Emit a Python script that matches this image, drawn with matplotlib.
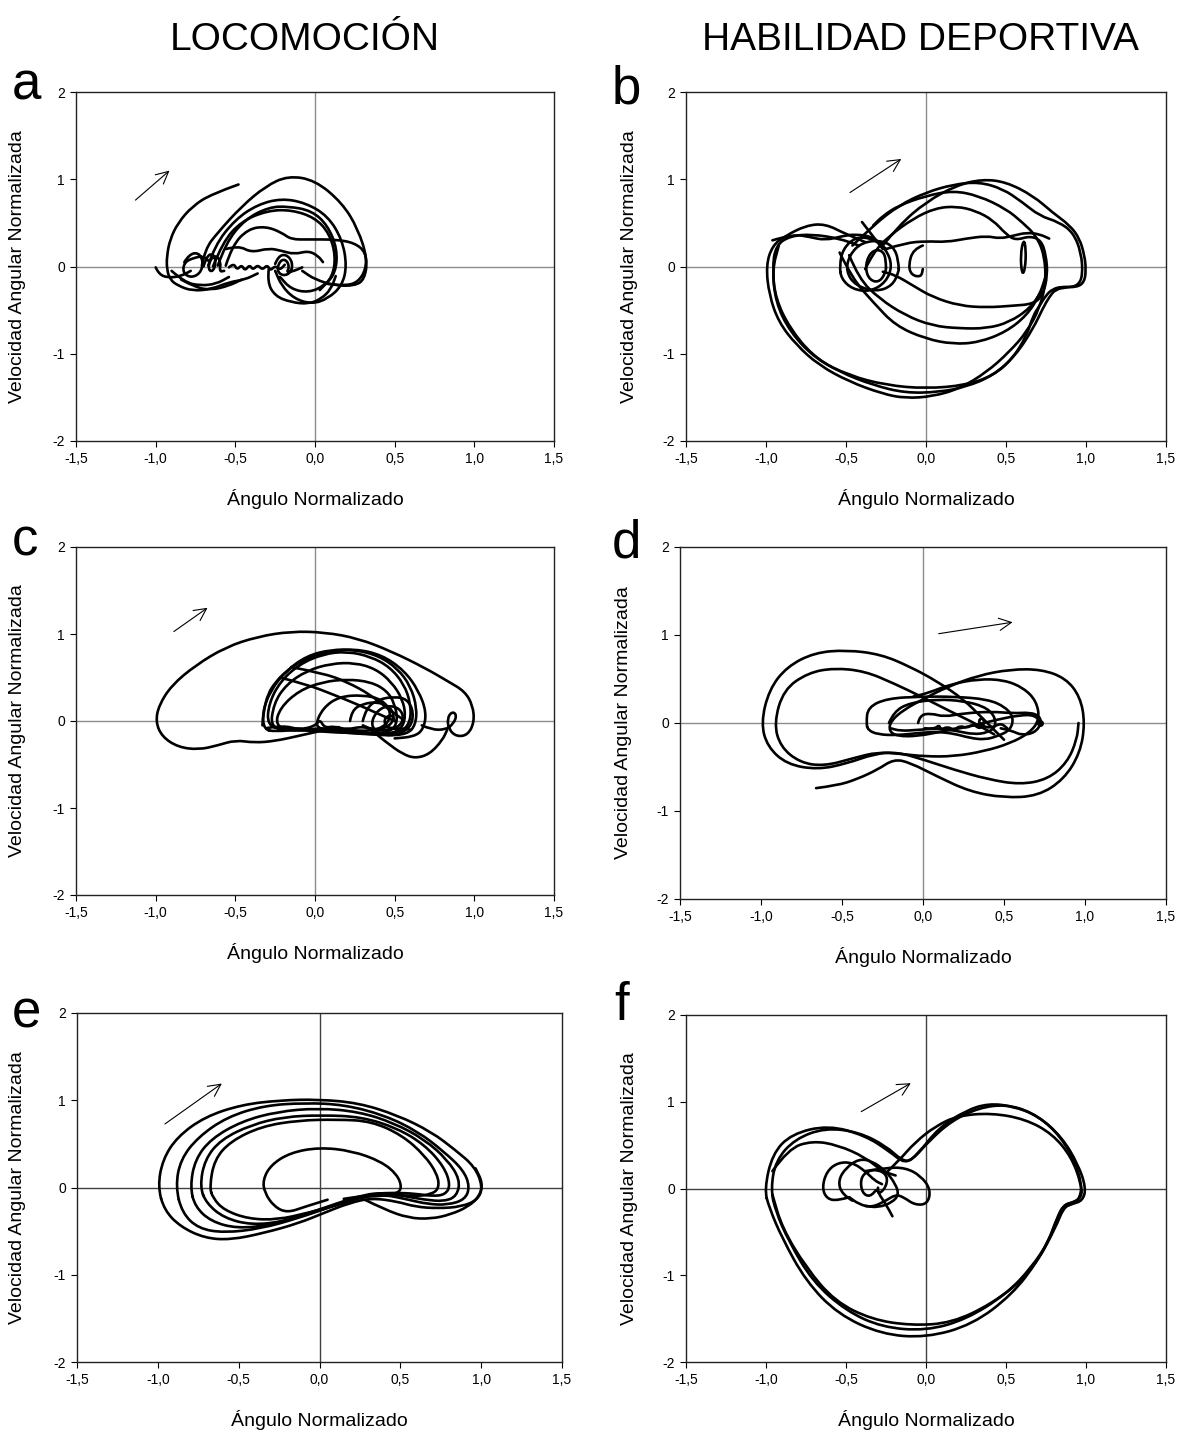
import matplotlib
matplotlib.use("Agg")
import matplotlib.pyplot as plt
import numpy as np
from matplotlib.path import Path
from matplotlib.patches import PathPatch

plt.rcParams["font.family"] = ["Liberation Sans", "DejaVu Sans"]

# ---------------- data (x = normalised angle, y = normalised angular velocity)
x_ticks = [-1.5, -1.0, -0.5, 0.0, 0.5, 1.0, 1.5]
x_tick_labels = ["-1,5", "-1,0", "-0,5", "0,0", "0,5", "1,0", "1,5"]
y_ticks = [-2, -1, 0, 1, 2]
y_tick_labels = ["-2", "-1", "0", "1", "2"]

# panel a - locomocion
a_tail = [(-1.00, -0.01), (-0.98, -0.09), (-0.92, -0.13), (-0.84, -0.11), (-0.78, -0.05)]
a_start = [(-0.48, 0.94), (-0.65, 0.83), (-0.77, 0.69), (-0.86, 0.50), (-0.91, 0.31), (-0.93, 0.12),
           (-0.93, -0.03), (-0.91, -0.15), (-0.86, -0.22), (-0.77, -0.28), (-0.65, -0.26),
           (-0.54, -0.18), (-0.44, -0.15), (-0.36, -0.08)]
a_arch1 = [(-0.71, 0.01), (-0.69, 0.20), (-0.61, 0.39), (-0.46, 0.69), (-0.31, 0.92), (-0.17, 1.04),
           (0.00, 0.99), (0.17, 0.73), (0.27, 0.43), (0.33, 0.08), (0.31, -0.15), (0.25, -0.22),
           (0.13, -0.22), (0.00, -0.15), (-0.08, -0.05)]
a_arch2 = [(-0.67, 0.01), (-0.63, 0.24), (-0.50, 0.54), (-0.36, 0.71), (-0.21, 0.78), (-0.06, 0.73),
           (0.08, 0.58), (0.17, 0.31), (0.20, 0.01), (0.17, -0.22), (0.08, -0.37), (-0.02, -0.43),
           (-0.13, -0.37), (-0.21, -0.22), (-0.25, -0.05)]
a_arch3 = [(-0.61, 0.01), (-0.56, 0.27), (-0.44, 0.54), (-0.29, 0.68), (-0.17, 0.69), (-0.02, 0.64),
           (0.08, 0.47), (0.14, 0.20), (0.13, -0.07), (0.06, -0.22), (-0.04, -0.30), (-0.15, -0.26),
           (-0.22, -0.12)]
a_arch4 = [(-0.64, 0.00), (-0.58, 0.28), (-0.46, 0.52), (-0.30, 0.64), (-0.15, 0.65), (0.00, 0.56),
           (0.09, 0.38), (0.13, 0.12), (0.11, -0.12), (0.03, -0.27)]
a_arch5 = [(-0.56, 0.01), (-0.52, 0.24), (-0.42, 0.43), (-0.31, 0.46), (-0.21, 0.39), (-0.15, 0.31),
           (-0.04, 0.31), (0.13, 0.31), (0.25, 0.27), (0.32, 0.16), (0.32, -0.03), (0.27, -0.18),
           (0.19, -0.22), (0.08, -0.20)]
a_wave = [(-0.56, 0.20), (-0.48, 0.24), (-0.40, 0.16), (-0.29, 0.21), (-0.21, 0.18), (-0.13, 0.14),
          (-0.04, 0.18), (0.02, 0.12), (0.05, 0.05)]
a_left_loops = [(-0.82, 0.05), (-0.79, 0.14), (-0.73, 0.16), (-0.70, 0.05), (-0.72, -0.08),
                (-0.78, -0.13), (-0.83, -0.07), (-0.82, 0.05), (-0.76, 0.10), (-0.70, 0.12), (-0.66, 0.05)]
a_curls = [(-0.70, 0.00), (-0.68, 0.12), (-0.64, 0.15), (-0.62, 0.05), (-0.64, -0.06), (-0.67, -0.04),
           (-0.66, 0.08), (-0.62, 0.13), (-0.59, 0.05), (-0.60, -0.06), (-0.57, -0.05)]
a_squiggle = [(-0.54, -0.01), (-0.51, 0.04), (-0.49, -0.04), (-0.46, 0.02), (-0.44, -0.05), (-0.41, 0.02),
              (-0.39, -0.04), (-0.36, 0.02), (-0.33, -0.04), (-0.30, 0.02), (-0.28, -0.05), (-0.25, 0.01),
              (-0.22, -0.04), (-0.19, 0.02)]
a_right_curls = [(-0.25, 0.03), (-0.23, 0.12), (-0.18, 0.14), (-0.14, 0.05), (-0.15, -0.07), (-0.20, -0.11),
                 (-0.24, -0.05), (-0.22, 0.07), (-0.18, 0.08), (-0.16, -0.01), (-0.18, -0.07),
                 (-0.13, -0.05), (-0.08, -0.01)]
a_bottom_right = [(-0.29, -0.03), (-0.30, -0.18), (-0.25, -0.34), (-0.15, -0.41), (-0.04, -0.43),
                  (0.04, -0.37), (0.10, -0.26), (0.13, -0.11)]
a_bottom_left = [(-0.84, -0.15), (-0.75, -0.24), (-0.65, -0.27), (-0.54, -0.22), (-0.46, -0.15)]
a_bottom_left2 = [(-0.90, -0.05), (-0.82, -0.18), (-0.72, -0.22), (-0.62, -0.20), (-0.54, -0.12)]
a_arrow = [(-1.14, 0.74), (-0.90, 1.12)]

# panel b - habilidad deportiva
b_outer1 = [(-0.38, 0.28), (-0.50, 0.37), (-0.63, 0.49), (-0.75, 0.47), (-0.88, 0.35), (-0.96, 0.24),
            (-1.00, 0.01), (-0.98, -0.33), (-0.92, -0.64), (-0.81, -0.90), (-0.67, -1.13), (-0.48, -1.32),
            (-0.27, -1.46), (-0.13, -1.51), (0.04, -1.49), (0.21, -1.40), (0.38, -1.21), (0.52, -0.98),
            (0.63, -0.75), (0.71, -0.48), (0.75, -0.18), (0.74, 0.13), (0.69, 0.35), (0.60, 0.51),
            (0.50, 0.66), (0.33, 0.81), (0.17, 0.87), (0.00, 0.81), (-0.17, 0.70), (-0.27, 0.58),
            (-0.33, 0.47)]
b_big_right = [(-0.27, 0.24), (-0.17, 0.47), (0.00, 0.74), (0.19, 0.93), (0.35, 1.00), (0.50, 0.97),
               (0.67, 0.81), (0.79, 0.62), (0.90, 0.47), (0.96, 0.32), (0.99, 0.13), (1.00, -0.03),
               (0.99, -0.18), (0.94, -0.24), (0.85, -0.23), (0.79, -0.26), (0.75, -0.33), (0.71, -0.45),
               (0.67, -0.56), (0.63, -0.79), (0.54, -1.06), (0.42, -1.25), (0.25, -1.36), (0.00, -1.40),
               (-0.25, -1.36), (-0.48, -1.25), (-0.69, -1.06), (-0.85, -0.75), (-0.94, -0.41),
               (-0.96, -0.03), (-0.94, 0.24), (-0.85, 0.35), (-0.71, 0.37), (-0.54, 0.32), (-0.42, 0.24)]
b_third = [(-0.46, 0.24), (-0.33, 0.47), (-0.17, 0.70), (0.00, 0.85), (0.17, 0.94), (0.33, 0.97),
           (0.48, 0.89), (0.60, 0.74), (0.71, 0.58), (0.83, 0.51), (0.92, 0.39), (0.97, 0.16),
           (0.98, -0.10), (0.95, -0.22), (0.88, -0.24), (0.81, -0.26), (0.77, -0.35), (0.73, -0.48),
           (0.67, -0.71), (0.56, -1.02), (0.42, -1.25), (0.25, -1.38), (0.08, -1.44), (-0.13, -1.45),
           (-0.33, -1.36), (-0.54, -1.21), (-0.71, -1.02), (-0.85, -0.71), (-0.94, -0.37),
           (-0.96, -0.03), (-0.92, 0.24)]
b_inner_top = [(-0.38, -0.03), (-0.33, 0.16), (-0.23, 0.35), (-0.08, 0.55), (0.06, 0.67), (0.19, 0.69),
               (0.31, 0.64), (0.42, 0.53), (0.50, 0.37), (0.56, 0.30), (0.65, 0.35), (0.72, 0.30),
               (0.75, 0.13), (0.76, -0.10), (0.73, -0.33), (0.67, -0.43), (0.54, -0.45), (0.38, -0.47),
               (0.21, -0.45), (0.04, -0.35), (-0.08, -0.22), (-0.19, -0.10), (-0.27, -0.06)]
b_lower1 = [(-0.48, 0.13), (-0.42, -0.14), (-0.29, -0.37), (-0.13, -0.56), (0.04, -0.68), (0.21, -0.71),
            (0.38, -0.71), (0.52, -0.64), (0.65, -0.48), (0.72, -0.29)]
b_lower2 = [(-0.54, 0.16), (-0.46, -0.14), (-0.33, -0.41), (-0.19, -0.68), (0.00, -0.83), (0.17, -0.89),
            (0.33, -0.87), (0.50, -0.75), (0.63, -0.56), (0.71, -0.33), (0.75, -0.10)]
b_wavy = [(-0.25, 0.20), (-0.13, 0.27), (0.00, 0.29), (0.13, 0.28), (0.25, 0.32), (0.38, 0.35),
          (0.46, 0.32), (0.54, 0.35), (0.63, 0.39), (0.71, 0.37), (0.77, 0.32)]
b_top_left = [(-0.96, 0.30), (-0.83, 0.37), (-0.73, 0.34), (-0.63, 0.30), (-0.52, 0.35), (-0.44, 0.37),
              (-0.33, 0.34), (-0.25, 0.20)]
b_loop1 = [(-0.25, 0.03), (-0.26, 0.16), (-0.31, 0.20), (-0.36, 0.13), (-0.38, -0.03), (-0.35, -0.16),
           (-0.29, -0.18), (-0.25, -0.06), (-0.25, 0.03)]
b_loop2 = [(-0.17, 0.01), (-0.19, 0.20), (-0.27, 0.30), (-0.40, 0.28), (-0.48, 0.13), (-0.50, -0.06),
           (-0.44, -0.22), (-0.31, -0.29), (-0.21, -0.22), (-0.17, -0.06), (-0.17, 0.01)]
b_loop3 = [(-0.54, 0.01), (-0.52, 0.20), (-0.44, 0.34), (-0.33, 0.32), (-0.25, 0.20), (-0.21, 0.01),
           (-0.25, -0.18), (-0.35, -0.29), (-0.46, -0.26), (-0.53, -0.14), (-0.54, 0.01)]
b_paren = [(-0.02, 0.24), (-0.08, 0.20), (-0.11, 0.01), (-0.09, -0.10), (-0.03, -0.12), (-0.02, -0.03)]
b_thin_loop = [(0.61, 0.32), (0.59, 0.13), (0.60, -0.10), (0.62, -0.03), (0.625, 0.20), (0.61, 0.32)]
b_start = [(-0.40, 0.51), (-0.27, 0.20)]
b_arrow = [(-0.49, 0.83), (-0.14, 1.25)]

# panel c - locomocion
c_outer = [(0.67, -0.05), (0.73, -0.10), (0.82, -0.10), (0.87, -0.03), (0.89, 0.07), (0.86, 0.11),
           (0.83, 0.03), (0.84, -0.10), (0.89, -0.18), (0.96, -0.16), (1.00, -0.01), (0.99, 0.18),
           (0.94, 0.34), (0.84, 0.45), (0.69, 0.61), (0.48, 0.80), (0.27, 0.95), (0.06, 1.02),
           (-0.15, 1.03), (-0.36, 0.97), (-0.56, 0.85), (-0.75, 0.64), (-0.90, 0.41), (-0.98, 0.18),
           (-1.00, -0.01), (-0.96, -0.18), (-0.86, -0.30), (-0.73, -0.33), (-0.61, -0.28), (-0.50, -0.22),
           (-0.38, -0.25), (-0.25, -0.23), (-0.10, -0.17), (0.02, -0.12), (0.15, -0.07)]
c_arch1 = [(-0.32, -0.10), (-0.33, 0.10), (-0.28, 0.35), (-0.18, 0.58), (-0.05, 0.75), (0.10, 0.82),
           (0.25, 0.82), (0.40, 0.75), (0.52, 0.60), (0.60, 0.40), (0.64, 0.15), (0.63, -0.05),
           (0.58, -0.15), (0.45, -0.17), (0.30, -0.14), (0.10, -0.13), (-0.10, -0.10), (-0.25, -0.12),
           (-0.32, -0.10)]
c_arch2 = [(-0.30, -0.05), (-0.29, 0.20), (-0.22, 0.45), (-0.10, 0.65), (0.05, 0.77), (0.20, 0.80),
           (0.35, 0.74), (0.47, 0.62), (0.56, 0.42), (0.60, 0.20), (0.60, 0.00), (0.55, -0.12),
           (0.40, -0.15), (0.20, -0.12), (0.00, -0.10), (-0.20, -0.10), (-0.30, -0.05)]
c_arch3 = [(-0.28, -0.10), (-0.26, 0.20), (-0.18, 0.42), (-0.05, 0.58), (0.10, 0.66), (0.25, 0.67),
           (0.38, 0.60), (0.48, 0.45), (0.55, 0.25), (0.57, 0.05), (0.54, -0.10), (0.45, -0.16),
           (0.30, -0.15), (0.10, -0.12), (-0.10, -0.10), (-0.28, -0.10)]
c_arch4 = [(-0.25, -0.05), (-0.22, 0.15), (-0.10, 0.35), (0.05, 0.45), (0.20, 0.48), (0.35, 0.45),
           (0.45, 0.35), (0.50, 0.20), (0.52, 0.00), (0.48, -0.12), (0.35, -0.15), (0.20, -0.10),
           (0.00, -0.08), (-0.15, -0.12), (-0.25, -0.05)]
c_arch5 = [(0.00, -0.05), (0.05, 0.15), (0.15, 0.28), (0.30, 0.30), (0.42, 0.25), (0.48, 0.10),
           (0.45, -0.05), (0.35, -0.12), (0.20, -0.10), (0.05, -0.10), (0.00, -0.05)]
c_arch6 = [(-0.33, -0.05), (-0.32, 0.25), (-0.22, 0.52), (-0.08, 0.70), (0.08, 0.80), (0.25, 0.83),
           (0.42, 0.76), (0.56, 0.58), (0.65, 0.35), (0.70, 0.10), (0.68, -0.10), (0.62, -0.18),
           (0.50, -0.20)]
c_loops = [(0.30, 0.00), (0.32, 0.15), (0.40, 0.25), (0.50, 0.28), (0.58, 0.25), (0.62, 0.10),
           (0.60, -0.08), (0.50, -0.17), (0.40, -0.15), (0.35, -0.05), (0.38, 0.10), (0.45, 0.18),
           (0.53, 0.15), (0.56, 0.03), (0.52, -0.08), (0.45, -0.08), (0.43, 0.02), (0.48, 0.08),
           (0.50, 0.00)]
c_loops2 = [(0.22, 0.00), (0.23, 0.12), (0.30, 0.20), (0.40, 0.22), (0.48, 0.15), (0.50, 0.02),
            (0.45, -0.08), (0.36, -0.10), (0.30, -0.05)]
c_cross1 = [(-0.22, 0.50), (-0.05, 0.42), (0.12, 0.30), (0.28, 0.18), (0.40, 0.08), (0.50, 0.00)]
c_cross2 = [(-0.15, 0.62), (0.05, 0.55), (0.20, 0.45), (0.35, 0.30), (0.45, 0.15), (0.55, 0.02)]
c_swoop = [(0.35, -0.10), (0.45, -0.25), (0.55, -0.38), (0.63, -0.43), (0.72, -0.38), (0.80, -0.22),
           (0.83, -0.10)]
c_squiggle = [(-0.30, -0.08), (-0.20, -0.05), (-0.10, -0.10), (0.00, -0.06), (0.03, 0.02), (0.06, -0.08),
              (0.12, -0.06), (0.20, -0.10), (0.30, -0.06), (0.40, -0.12), (0.50, -0.08), (0.60, -0.10)]
c_arrow = [(-0.90, 1.01), (-0.66, 1.32)]

# panel d - habilidad deportiva
d_tail_right = [(-0.66, -0.74), (-0.53, -0.71), (-0.41, -0.64), (-0.28, -0.53), (-0.18, -0.41),
                (-0.08, -0.45), (0.09, -0.61), (0.29, -0.78), (0.50, -0.85), (0.71, -0.83), (0.87, -0.64),
                (0.97, -0.34), (1.00, 0.00), (0.97, 0.30), (0.88, 0.51), (0.73, 0.61), (0.54, 0.61),
                (0.34, 0.54), (0.15, 0.41), (0.01, 0.28), (-0.12, 0.15), (-0.20, 0.02), (-0.21, -0.09),
                (-0.16, -0.15), (-0.03, -0.15), (0.13, -0.09), (0.29, -0.04), (0.46, 0.04), (0.60, 0.09),
                (0.69, 0.09), (0.73, 0.00)]
d_left_outer = [(0.50, -0.19), (0.375, 0.04), (0.25, 0.27), (0.09, 0.47), (-0.08, 0.64), (-0.26, 0.78),
                (-0.47, 0.83), (-0.67, 0.80), (-0.84, 0.64), (-0.95, 0.38), (-1.00, 0.00), (-0.96, -0.27),
                (-0.84, -0.47), (-0.65, -0.53), (-0.47, -0.46), (-0.30, -0.35), (-0.16, -0.33),
                (0.01, -0.42), (0.19, -0.53), (0.40, -0.64), (0.60, -0.70), (0.77, -0.64), (0.89, -0.45),
                (0.95, -0.19), (0.96, 0.00)]
d_left_inner = [(0.44, -0.13), (0.34, -0.02), (0.17, 0.13), (-0.01, 0.30), (-0.18, 0.45), (-0.36, 0.59),
                (-0.55, 0.625), (-0.71, 0.57), (-0.86, 0.38), (-0.92, 0.00), (-0.88, -0.27), (-0.76, -0.45),
                (-0.61, -0.49), (-0.43, -0.40), (-0.28, -0.33), (-0.14, -0.35), (0.01, -0.38), (0.19, -0.38),
                (0.38, -0.32), (0.54, -0.23), (0.66, -0.11), (0.72, 0.04), (0.70, 0.25), (0.62, 0.40),
                (0.50, 0.49), (0.34, 0.50), (0.17, 0.44), (0.03, 0.34), (-0.06, 0.30)]
d_center1 = [(-0.35, 0.00), (-0.34, 0.18), (-0.22, 0.28), (-0.01, 0.30), (0.19, 0.30), (0.40, 0.27),
             (0.51, 0.18), (0.56, 0.06), (0.54, -0.08), (0.46, -0.15), (0.38, -0.19), (0.29, -0.17),
             (0.19, -0.12), (0.09, -0.10), (-0.01, -0.11), (-0.16, -0.14), (-0.28, -0.13), (-0.34, -0.08),
             (-0.35, 0.00)]
d_center2 = [(-0.21, 0.00), (-0.18, 0.13), (-0.08, 0.23), (0.09, 0.27), (0.25, 0.25), (0.375, 0.19),
             (0.44, 0.09), (0.45, -0.04), (0.40, -0.11), (0.31, -0.13), (0.21, -0.09), (0.09, -0.06),
             (-0.04, -0.08), (-0.14, -0.09), (-0.20, -0.06)]
d_center3 = [(-0.03, 0.00), (-0.02, 0.09), (0.05, 0.11), (0.13, 0.07), (0.25, 0.11), (0.42, 0.13),
             (0.56, 0.11), (0.66, 0.12), (0.72, 0.08), (0.73, -0.01), (0.69, -0.11), (0.61, -0.14),
             (0.55, -0.09), (0.48, -0.06)]
d_squiggle = [(0.01, -0.06), (0.07, -0.07), (0.10, -0.02), (0.11, -0.08), (0.15, -0.04), (0.19, -0.08),
              (0.23, -0.03), (0.27, -0.06), (0.31, -0.01), (0.35, -0.07), (0.38, -0.01), (0.37, 0.06),
              (0.34, 0.03), (0.36, -0.03), (0.42, -0.06), (0.48, 0.00), (0.52, -0.06)]
d_dot = [(0.72, 0.00)]
d_arrow = [(0.08, 1.01), (0.57, 1.15)]

# panel e - locomocion
e_loop1 = [(-1.00, 0.01), (-0.97, 0.32), (-0.88, 0.58), (-0.71, 0.81), (-0.48, 0.95), (-0.24, 1.00),
           (-0.01, 1.01), (0.24, 0.97), (0.48, 0.83), (0.69, 0.64), (0.84, 0.43), (0.96, 0.24),
           (1.01, 0.01), (0.98, -0.14), (0.88, -0.22), (0.73, -0.24), (0.59, -0.22), (0.48, -0.16),
           (0.32, -0.12), (0.18, -0.18), (0.03, -0.29), (-0.13, -0.41), (-0.34, -0.52), (-0.55, -0.60),
           (-0.71, -0.58), (-0.86, -0.45), (-0.96, -0.26), (-1.00, 0.01)]
e_loop2 = [(-0.89, 0.01), (-0.86, 0.32), (-0.75, 0.58), (-0.57, 0.81), (-0.34, 0.94), (-0.09, 0.97),
           (0.15, 0.95), (0.40, 0.83), (0.61, 0.64), (0.77, 0.41), (0.89, 0.20), (0.93, 0.01),
           (0.90, -0.14), (0.79, -0.20), (0.67, -0.19), (0.55, -0.14), (0.40, -0.08), (0.24, -0.10),
           (0.07, -0.22), (-0.13, -0.35), (-0.36, -0.47), (-0.59, -0.52), (-0.75, -0.47), (-0.85, -0.29),
           (-0.89, 0.01)]
e_loop3 = [(-0.80, 0.01), (-0.77, 0.32), (-0.67, 0.56), (-0.48, 0.76), (-0.26, 0.87), (-0.01, 0.91),
           (0.24, 0.87), (0.46, 0.74), (0.65, 0.55), (0.79, 0.32), (0.87, 0.09), (0.85, -0.10),
           (0.77, -0.16), (0.65, -0.14), (0.53, -0.10), (0.40, -0.06), (0.28, -0.08), (0.11, -0.18),
           (-0.09, -0.31), (-0.30, -0.43), (-0.51, -0.47), (-0.67, -0.39), (-0.77, -0.22), (-0.80, 0.01)]
e_loop4 = [(-0.74, 0.01), (-0.71, 0.32), (-0.61, 0.55), (-0.42, 0.72), (-0.22, 0.81), (0.01, 0.83),
           (0.26, 0.81), (0.48, 0.68), (0.65, 0.49), (0.77, 0.24), (0.81, 0.03), (0.78, -0.08),
           (0.70, -0.10), (0.59, -0.07), (0.46, -0.06), (0.34, -0.07), (0.175, -0.16), (-0.01, -0.27),
           (-0.22, -0.39), (-0.42, -0.43), (-0.59, -0.35), (-0.70, -0.18), (-0.74, 0.01)]
e_loop5 = [(-0.68, 0.01), (-0.65, 0.32), (-0.55, 0.53), (-0.36, 0.70), (-0.13, 0.77), (0.11, 0.78),
           (0.32, 0.76), (0.51, 0.60), (0.65, 0.37), (0.73, 0.15), (0.74, -0.01), (0.69, -0.08),
           (0.59, -0.10), (0.44, -0.08), (0.28, -0.10), (0.11, -0.20), (-0.07, -0.29), (-0.26, -0.37),
           (-0.44, -0.36), (-0.59, -0.26), (-0.66, -0.12), (-0.68, 0.01)]
e_inner = [(0.05, -0.14), (-0.09, -0.22), (-0.20, -0.29), (-0.28, -0.22), (-0.34, -0.06), (-0.35, 0.09),
           (-0.30, 0.26), (-0.18, 0.40), (0.00, 0.46), (0.20, 0.42), (0.38, 0.30), (0.48, 0.15),
           (0.51, 0.00), (0.48, -0.07), (0.38, -0.10), (0.26, -0.10), (0.15, -0.13)]
e_bulge = [(0.28, -0.14), (0.40, -0.25), (0.55, -0.35), (0.69, -0.36), (0.81, -0.31), (0.92, -0.22),
           (0.99, -0.10), (1.01, 0.05), (0.965, 0.22)]
e_arrow = [(-0.97, 0.71), (-0.59, 1.21)]

# panel f - habilidad deportiva
f_outer = [(-1.01, -0.01), (-0.96, 0.40), (-0.84, 0.63), (-0.61, 0.73), (-0.38, 0.61), (-0.23, 0.43),
           (-0.13, 0.28), (-0.05, 0.40), (0.08, 0.70), (0.25, 0.90), (0.39, 0.98), (0.54, 0.95),
           (0.70, 0.84), (0.85, 0.59), (0.95, 0.28), (1.00, 0.01), (0.98, -0.14), (0.91, -0.18),
           (0.86, -0.22), (0.81, -0.45), (0.70, -0.83), (0.54, -1.22), (0.29, -1.57), (0.00, -1.72),
           (-0.28, -1.68), (-0.55, -1.45), (-0.75, -1.07), (-0.90, -0.57), (-0.98, -0.22), (-1.01, -0.01)]
f_second = [(-0.97, -0.01), (-0.94, 0.32), (-0.82, 0.57), (-0.63, 0.70), (-0.42, 0.65), (-0.25, 0.49),
            (-0.15, 0.32), (-0.09, 0.32), (0.02, 0.55), (0.16, 0.78), (0.33, 0.93), (0.50, 0.97),
            (0.66, 0.88), (0.81, 0.67), (0.92, 0.36), (0.975, 0.05), (0.96, -0.12), (0.92, -0.16),
            (0.87, -0.18), (0.83, -0.30), (0.77, -0.60), (0.66, -0.91), (0.50, -1.22), (0.25, -1.51),
            (0.00, -1.64), (-0.275, -1.60), (-0.50, -1.41), (-0.71, -1.07), (-0.86, -0.60),
            (-0.94, -0.26), (-0.97, -0.01)]
f_inner_arc = [(-0.96, 0.20), (-0.86, 0.46), (-0.71, 0.55), (-0.55, 0.50), (-0.38, 0.36), (-0.275, 0.20),
               (-0.19, 0.15)]
f_third = [(-0.25, 0.18), (-0.17, 0.32), (-0.07, 0.53), (0.06, 0.72), (0.20, 0.84), (0.41, 0.87),
           (0.62, 0.80), (0.79, 0.63), (0.91, 0.36), (0.97, 0.05), (0.975, -0.10), (0.91, -0.17),
           (0.86, -0.19), (0.82, -0.33), (0.75, -0.68), (0.62, -1.03), (0.41, -1.33), (0.16, -1.55),
           (-0.09, -1.58), (-0.34, -1.51), (-0.57, -1.30), (-0.75, -0.91), (-0.90, -0.45), (-0.96, -0.07)]
f_loop_right = [(-0.38, 0.20), (-0.25, 0.24), (-0.13, 0.24), (-0.035, 0.15), (0.03, -0.01), (0.01, -0.18),
                (-0.07, -0.19), (-0.14, -0.10), (-0.19, -0.07), (-0.25, -0.14), (-0.34, -0.22),
                (-0.42, -0.18), (-0.48, -0.10)]
f_loop_left = [(-0.48, -0.10), (-0.55, -0.14), (-0.62, -0.12), (-0.65, 0.01), (-0.62, 0.20), (-0.55, 0.30),
               (-0.46, 0.30), (-0.38, 0.20), (-0.32, 0.09), (-0.275, 0.05)]
f_loop_mid = [(-0.46, -0.14), (-0.525, -0.07), (-0.55, 0.09), (-0.50, 0.24), (-0.42, 0.34), (-0.34, 0.32),
              (-0.25, 0.20), (-0.19, 0.05), (-0.17, -0.07), (-0.21, -0.16), (-0.30, -0.22), (-0.38, -0.20)]
f_loop_inner = [(-0.30, 0.01), (-0.35, -0.10), (-0.40, -0.05), (-0.41, 0.11), (-0.37, 0.20), (-0.30, 0.22),
                (-0.24, 0.15), (-0.25, 0.01), (-0.30, -0.07), (-0.32, 0.01)]
f_start = [(-0.21, -0.32), (-0.25, -0.18), (-0.30, -0.05), (-0.30, 0.01)]
f_arrow = [(-0.42, 0.87), (-0.08, 1.23)]

panels = [
    ("a", [a_tail, a_start, a_arch1, a_arch2, a_arch3, a_arch4, a_arch5, a_wave, a_left_loops,
           a_curls, a_squiggle, a_right_curls, a_bottom_right, a_bottom_left, a_bottom_left2], a_arrow),
    ("b", [b_outer1, b_big_right, b_third, b_inner_top, b_lower1, b_lower2, b_wavy, b_top_left,
           b_loop1, b_loop2, b_loop3, b_paren, b_thin_loop, b_start], b_arrow),
    ("c", [c_outer, c_arch1, c_arch2, c_arch3, c_arch4, c_arch5, c_arch6, c_loops, c_loops2,
           c_cross1, c_cross2, c_swoop, c_squiggle], c_arrow),
    ("d", [d_tail_right, d_left_outer, d_left_inner, d_center1, d_center2, d_center3, d_squiggle,
           d_dot], d_arrow),
    ("e", [e_loop1, e_loop2, e_loop3, e_loop4, e_loop5, e_inner, e_bulge], e_arrow),
    ("f", [f_outer, f_second, f_inner_arc, f_third, f_loop_right, f_loop_left, f_loop_mid,
           f_loop_inner, f_start], f_arrow),
]

# ---------------- layout (pixel boxes: left, right, top, bottom)
W, H = 1185, 1439
boxes = {
    "a": (76, 554, 92, 441),
    "b": (686, 1166, 92, 441),
    "c": (76, 554, 547, 895),
    "d": (680, 1166, 547, 899),
    "e": (77, 562, 1013, 1362),
    "f": (686, 1166, 1015, 1362),
}
letter_pos = {"a": (12, 100), "b": (612, 104), "c": (12, 555), "d": (612, 558),
              "e": (12, 1028), "f": (614, 1020)}
zero_color = {"a": "#8c8c8c", "b": "#8c8c8c", "c": "#8c8c8c", "d": "#8c8c8c",
              "e": "#404040", "f": "#404040"}


def draw_curve(ax, pts, lw=1.9):
    """Smooth trace through the read-off points (quadratic joins at midpoints)."""
    v = np.asarray(pts, dtype=float)
    if len(v) == 1:
        ax.plot(v[:, 0], v[:, 1], "o", color="black", ms=4)
        return
    if len(v) == 2:
        ax.plot(v[:, 0], v[:, 1], color="black", lw=lw, solid_capstyle="round")
        return
    closed = np.allclose(v[0], v[-1], atol=0.02)
    if closed:
        v = v[:-1]
        n = len(v)
        verts = [(v[-1] + v[0]) / 2]
        codes = [Path.MOVETO]
        for i in range(n):
            verts += [v[i], (v[i] + v[(i + 1) % n]) / 2]
            codes += [Path.CURVE3, Path.CURVE3]
    else:
        verts = [v[0]]
        codes = [Path.MOVETO]
        for i in range(1, len(v) - 1):
            verts += [v[i], (v[i] + v[i + 1]) / 2]
            codes += [Path.CURVE3, Path.CURVE3]
        verts.append(v[-1])
        codes.append(Path.LINETO)
    ax.add_patch(PathPatch(Path(verts, codes), fill=False, lw=lw, ec="black",
                           capstyle="round", joinstyle="round"))


fig = plt.figure(figsize=(W / 100, H / 100), dpi=100)

for key, curves, arrow in panels:
    l, r, t, b = boxes[key]
    ax = fig.add_axes([l / W, 1 - b / H, (r - l) / W, (b - t) / H])
    ax.set_xlim(-1.5, 1.5)
    ax.set_ylim(-2, 2)
    ax.axhline(0, color=zero_color[key], lw=1.0, zorder=1)
    ax.axvline(0, color=zero_color[key], lw=1.0, zorder=1)
    for c in curves:
        draw_curve(ax, c)
    ax.annotate("", xy=arrow[1], xytext=arrow[0],
                arrowprops=dict(arrowstyle="->", lw=0.8, color="black", mutation_scale=22))

    ax.set_xticks(x_ticks)
    ax.set_xticklabels(x_tick_labels)
    ax.set_yticks(y_ticks)
    ax.set_yticklabels(y_tick_labels)
    ax.tick_params(direction="out", length=4, width=0.8, labelsize=10, pad=4)
    for s in ax.spines.values():
        s.set_linewidth(1.0)
        s.set_color("#222222")

    ax.set_xlabel("Ángulo Normalizado", fontsize=14, va="center")
    ax.xaxis.set_label_coords(0.5, -58 / (b - t))
    ax.set_ylabel("Velocidad Angular Normalizada", fontsize=14, va="center")
    ax.yaxis.set_label_coords(-(l - (18 if l < 300 else l - 56)) / (r - l), 0.5)

    lx, ly = letter_pos[key]
    fig.text(lx / W, 1 - ly / H, key, fontsize=38, va="baseline", ha="left")

fig.text(305 / W, 1 - 50 / H, "LOCOMOCIÓN", fontsize=28, ha="center", va="baseline")
fig.text(920 / W, 1 - 50 / H, "HABILIDAD DEPORTIVA", fontsize=28, ha="center", va="baseline")

fig.savefig("out.png", dpi=100)
